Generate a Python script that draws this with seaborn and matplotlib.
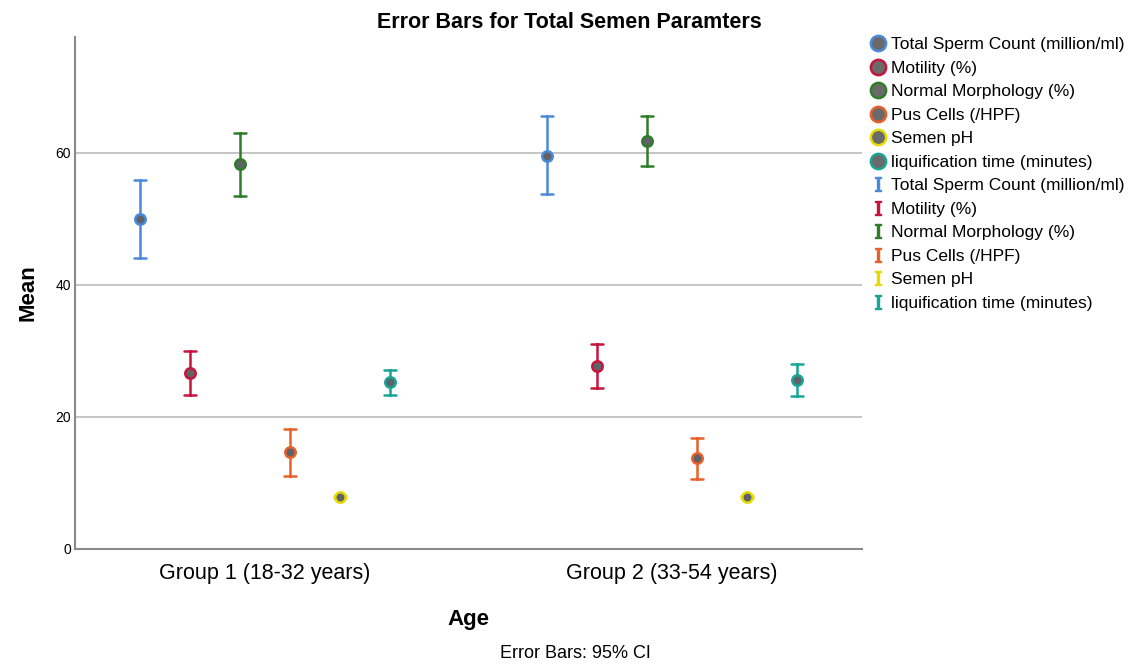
import pandas as pd
import seaborn as sns
import matplotlib.pyplot as plt
from matplotlib.lines import Line2D

# values (mean with 95% CI)
groups = ["Group 1 (18-32 years)", "Group 2 (33-54 years)"]
params = ["Total Sperm Count (million/ml)", "Motility (%)", "Normal Morphology (%)",
          "Pus Cells (/HPF)", "Semen pH", "liquification time (minutes)"]
colors = ["#4a8ad8", "#c8143c", "#2e7d2a", "#e8602a", "#e6da00", "#17a596"]

mean_g1 = [50.0, 26.7, 58.2, 14.7, 7.9, 25.3]
lower_g1 = [44.1, 23.3, 53.5, 11.1, 7.75, 23.3]
upper_g1 = [55.9, 30.0, 62.9, 18.2, 8.05, 27.1]

mean_g2 = [59.5, 27.7, 61.7, 13.8, 7.9, 25.6]
lower_g2 = [53.8, 24.4, 58.0, 10.6, 7.75, 23.2]
upper_g2 = [65.6, 31.1, 65.6, 16.8, 8.05, 28.0]

# long table: lower / mean / upper per point -> median = mean, min-max = CI
rows = []
for g, lo, mn, hi in [(groups[0], lower_g1, mean_g1, upper_g1),
                      (groups[1], lower_g2, mean_g2, upper_g2)]:
    for i, p in enumerate(params):
        for v in (lo[i], mn[i], hi[i]):
            rows.append({"Age": g, "param": p, "value": v})
df = pd.DataFrame(rows)

sns.set_style("white")
plt.rcParams["font.family"] = ["Liberation Sans", "DejaVu Sans"]
plt.rcParams["mathtext.fontset"] = "dejavuserif"
plt.rcParams["text.color"] = "black"
plt.rcParams["axes.labelcolor"] = "black"
plt.rcParams["xtick.color"] = "black"
plt.rcParams["ytick.color"] = "black"

fig = plt.figure(figsize=(11.29, 6.70), dpi=100)
ax = fig.add_axes([0.0664, 0.1806, 0.6971, 0.7642])

sns.pointplot(data=df, x="Age", y="value", hue="param", hue_order=params,
              palette=colors, estimator="median", errorbar=("pi", 100),
              dodge=0.615, linestyle="none", capsize=0.03, markers="o",
              err_kws={"linewidth": 1.8}, legend=False, ax=ax)

for ln in ax.lines:
    if ln.get_marker() not in (None, "None", "", " "):
        c = ln.get_markeredgecolor()
        ln.set_markerfacecolor("#5f6368")
        ln.set_markeredgecolor(c)
        ln.set_markeredgewidth(1.8)
        ln.set_markersize(7.5)
        ln.set_zorder(5)

ax.set_xlim(-0.467, 1.467)
ax.set_ylim(0, 77.5)
ax.set_yticks([0, 20, 40, 60])
ax.yaxis.grid(True, color="#c0c0c0", linewidth=1.3)
ax.set_axisbelow(True)
for s in ["top", "right"]:
    ax.spines[s].set_visible(False)
for s in ["left", "bottom"]:
    ax.spines[s].set_color("#8a8a8a")
    ax.spines[s].set_linewidth(1.5)
ax.tick_params(axis="y", labelsize=10, length=0, pad=3)
ax.tick_params(axis="x", labelsize=15.5, length=0, pad=10)
ax.set_xlabel("Age", fontsize=16, fontweight="bold", labelpad=18)
ax.set_ylabel("Mean", fontsize=16, fontweight="bold", labelpad=12)
fig.text(0.504, 0.958, "Error Bars for Total Semen Paramters", ha="center",
         fontsize=15.5, fontweight="bold")

handles = [Line2D([], [], linestyle="none", marker="o", markersize=11,
                  markerfacecolor="#6a6a6a", markeredgecolor=c, markeredgewidth=1.8)
           for c in colors]
handles += [Line2D([], [], linestyle="none", marker="$\\mathrm{I}$", markersize=10,
                   color=c) for c in colors]
labels = params + params
fig.legend(handles, labels, loc="upper left", bbox_to_anchor=(0.762, 0.955),
           frameon=False, fontsize=12.5, handletextpad=0.15, labelspacing=0.48,
           handlelength=1.2, borderaxespad=0)

fig.text(0.51, 0.018, "Error Bars: 95% CI", ha="center", fontsize=13)

fig.savefig("out.png", dpi=100)
